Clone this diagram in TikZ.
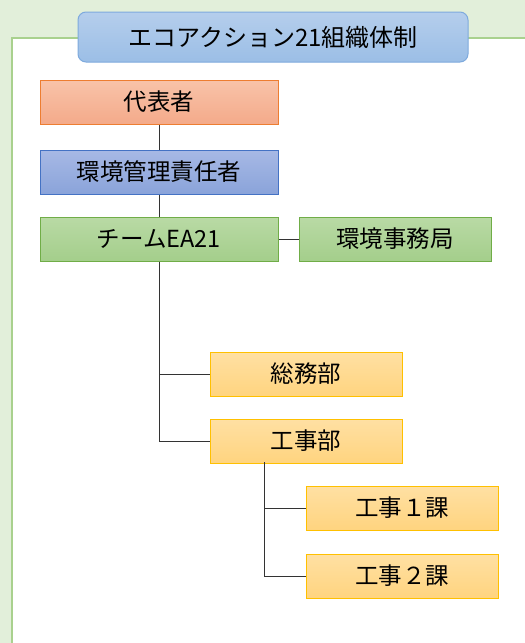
\documentclass[tikz,border=0pt]{standalone}
\usepackage{fontspec}
\setmainfont{Noto Sans CJK JP}
\usepackage{tikz}

\definecolor{bgGreen}{HTML}{E2EFDA}
\definecolor{frameGreen}{HTML}{A9D18E}
\definecolor{titleTop}{HTML}{B5CEEC}
\definecolor{titleBot}{HTML}{9BBEE6}
\definecolor{titleLine}{HTML}{7EAADD}
\definecolor{bossTop}{HTML}{F8C3A9}
\definecolor{bossBot}{HTML}{F4AA8A}
\definecolor{bossLine}{HTML}{ED7D31}
\definecolor{mgrTop}{HTML}{A7B9E5}
\definecolor{mgrBot}{HTML}{8AA3DA}
\definecolor{mgrLine}{HTML}{4472C4}
\definecolor{teamTop}{HTML}{B9DAA5}
\definecolor{teamBot}{HTML}{A4CE8B}
\definecolor{teamLine}{HTML}{70AD47}
\definecolor{deptTop}{HTML}{FFE0A3}
\definecolor{deptBot}{HTML}{FFD47F}
\definecolor{deptLine}{HTML}{FFC000}

\tikzset{
  unit/.style={draw, line width=1pt, inner sep=0pt, minimum height=44pt,
    font=\fontsize{23.5}{26}\selectfont},
  wide/.style={unit, minimum width=238pt},
  narrow/.style={unit, minimum width=192pt},
  boss/.style={wide, draw=bossLine, top color=bossTop, bottom color=bossBot},
  mgr/.style={wide, draw=mgrLine, top color=mgrTop, bottom color=mgrBot},
  team/.style={draw=teamLine, top color=teamTop, bottom color=teamBot},
  dept/.style={narrow, draw=deptLine, top color=deptTop, bottom color=deptBot},
  link/.style={draw=black!80, line width=1pt}
}

\begin{document}
\begin{tikzpicture}[x=1pt, y=-1pt]
  \useasboundingbox (0,0) rectangle (525,643);
  \clip (0,0) rectangle (525,643);
  \fill[bgGreen] (0,0) rectangle (525,643);
  \draw[frameGreen, line width=2.5pt, fill=white] (12,38) rectangle (540,660);

  % title
  \node[draw=titleLine, line width=1pt, rounded corners=8pt, top color=titleTop,
    bottom color=titleBot, minimum width=390pt, minimum height=50pt,
    font=\fontsize{24}{27}\selectfont] (title) at (273,37) {エコアクション21組織体制};

  % main chain
  \node[boss] (boss) at (159,102) {代表者};
  \node[mgr] (mgr) at (159,172) {環境管理責任者};
  \node[wide, team] (team) at (159,239) {チームEA21};
  \node[narrow, team] (office) at (395,239) {環境事務局};

  % departments
  \node[dept] (soumu) at (306,374) {総務部};
  \node[dept] (kouji) at (306,441) {工事部};
  \node[dept] (sec1) at (402,508) {工事１課};
  \node[dept] (sec2) at (402,576) {工事２課};
  \coordinate (split) at (264,462);

  \draw[link] (boss.south) -- (mgr.north);
  \draw[link] (mgr.south) -- (team.north);
  \draw[link] (team.east) -- (office.west);
  \draw[link] (team.south) |- (soumu.west);
  \draw[link] (team.south) |- (kouji.west);
  \draw[link] (split) |- (sec1.west);
  \draw[link] (split) |- (sec2.west);
\end{tikzpicture}
\end{document}
